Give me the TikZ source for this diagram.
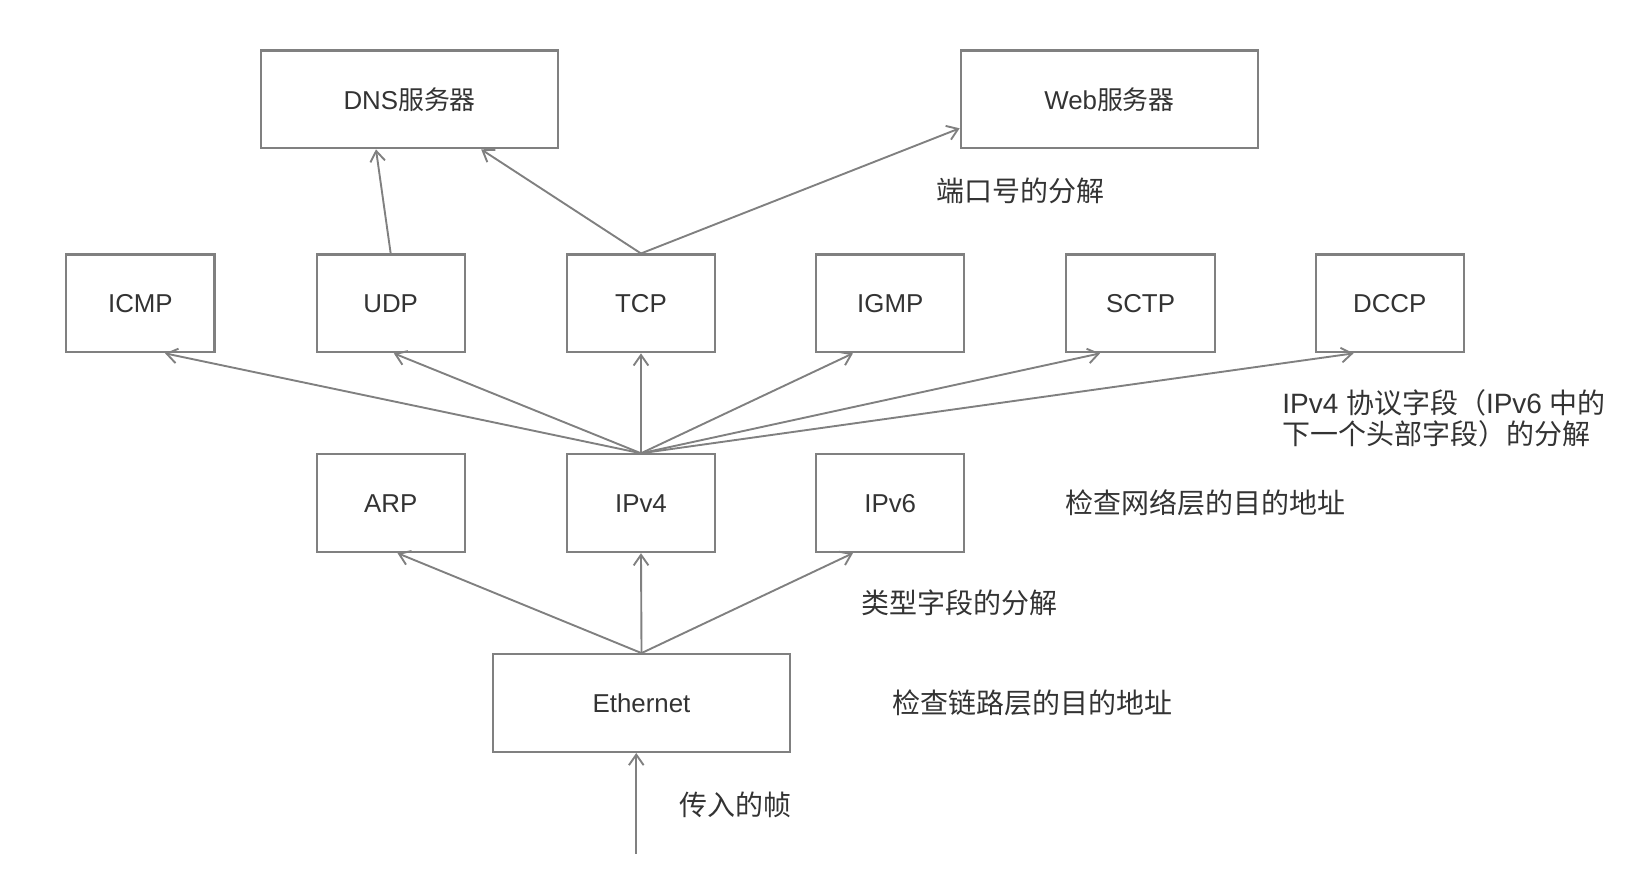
\documentclass[tikz,border=0pt]{standalone}
\usepackage{fontspec}
\setmainfont{Liberation Sans}
\newfontfamily\cjk{Noto Sans CJK SC}
\usetikzlibrary{arrows.meta}
\definecolor{linegray}{HTML}{808080}
\definecolor{textgray}{HTML}{333333}

\begin{document}
\begin{tikzpicture}[x=0.5pt, y=-0.5pt,
    box/.style={draw=linegray, line width=1pt, minimum width=70.5pt, minimum height=46.5pt,
        inner sep=0pt, text=textgray, font=\fontsize{12.3}{14}\selectfont},
    widebox/.style={box, minimum width=141.5pt},
    note/.style={anchor=west, inner sep=0pt, align=left, text=textgray,
        font=\fontsize{13.3}{15}\selectfont},
    arr/.style={draw=linegray, line width=0.9pt, -{Straight Barb[length=5pt,width=7pt]}}]
    \useasboundingbox (0,0) rectangle (1568,827);
    % servers
    \node[widebox] (dns) at (389.5, 94.5) {DNS{\cjk 服务器}};
    \node[widebox] (web) at (1055, 94.5) {Web{\cjk 服务器}};
    % transport layer
    \node[box] (icmp) at (133.5, 288.5) {ICMP};
    \node[box] (udp) at (371.5, 288.5) {UDP};
    \node[box] (tcp) at (609.5, 288.5) {TCP};
    \node[box] (igmp) at (846.5, 288.5) {IGMP};
    \node[box] (sctp) at (1084.5, 288.5) {SCTP};
    \node[box] (dccp) at (1321.5, 288.5) {DCCP};
    % network layer
    \node[box] (arp) at (371.5, 478.5) {ARP};
    \node[box] (ipv4) at (609.5, 478.5) {IPv4};
    \node[box] (ipv6) at (846.5, 478.5) {IPv6};
    % link layer
    \node[widebox] (eth) at (610, 668.5) {Ethernet};
    \coordinate (frame) at (605, 812);
    % notes
    \node[note] (portnote) at (890, 181) {\cjk 端口号的分解};
    \node[note] (protonote) at (1219, 398) {IPv4 {\cjk 协议字段（}IPv6 {\cjk 中的}\\{\cjk 下一个头部字段）的分解}};
    \node[note] (netnote) at (1013, 478) {\cjk 检查网络层的目的地址};
    \node[note] (typenote) at (819, 573) {\cjk 类型字段的分解};
    \node[note] (linknote) at (848, 668) {\cjk 检查链路层的目的地址};
    \node[note] (framenote) at (646, 765) {\cjk 传入的帧};
    % arrows
    \draw[arr] (udp.north) -- ([xshift=-16pt]dns.south);
    \draw[arr] (tcp.north) -- ([xshift=34pt]dns.south);
    \draw[arr] (tcp.north) -- ([yshift=-13.75pt]web.west);
    \draw[arr] (ipv4.north) -- ([xshift=11.75pt]icmp.south);
    \draw[arr] (ipv4.north) -- ([xshift=1.5pt]udp.south);
    \draw[arr] (ipv4.north) -- (tcp.south);
    \draw[arr] (ipv4.north) -- ([xshift=-17.75pt]igmp.south);
    \draw[arr] (ipv4.north) -- ([xshift=-19.25pt]sctp.south);
    \draw[arr] (ipv4.north) -- ([xshift=-17.25pt]dccp.south);
    \draw[arr] (eth.north) -- ([xshift=3.25pt]arp.south);
    \draw[arr] (eth.north) -- (ipv4.south);
    \draw[arr] (eth.north) -- ([xshift=-17.75pt]ipv6.south);
    \draw[arr] (frame) -- (frame |- eth.south);
\end{tikzpicture}
\end{document}
